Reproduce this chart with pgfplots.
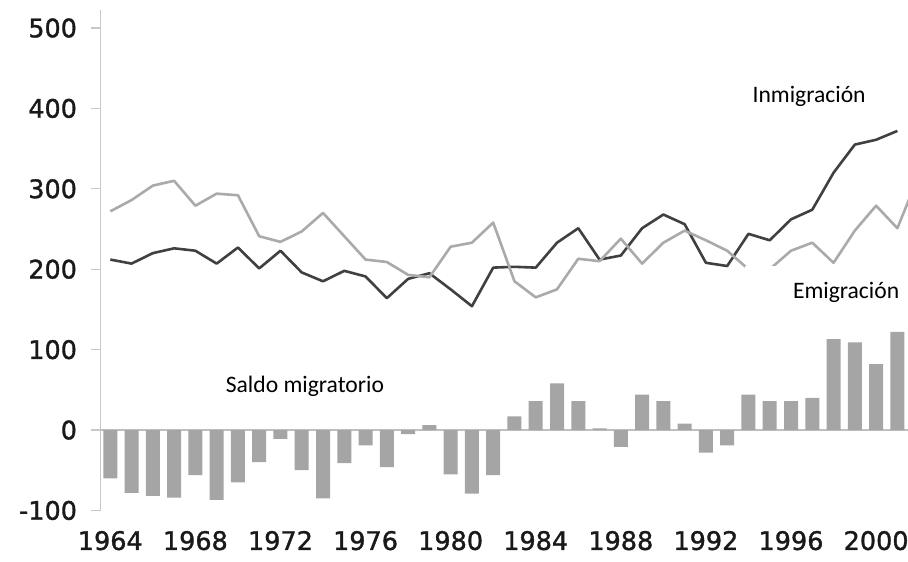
\documentclass[border=0pt]{standalone}
\usepackage{pgfplots}
\usepackage{pgfplotstable}
\pgfplotsset{compat=1.18}
\usepackage{fontspec}
\setmainfont{DejaVu Sans}
\newfontfamily\tickfont[FakeBold=1.3]{DejaVu Sans}
\newfontfamily\carlito{Carlito}
\definecolor{darkline}{HTML}{404040}
\definecolor{lightline}{HTML}{AAAAAA}
\definecolor{barfill}{HTML}{A5A5A5}
\definecolor{axisgray}{HTML}{C8C8C8}
\definecolor{zerogray}{HTML}{BFBFBF}

\pgfplotstableread{
year saldo inm emi
1964 -60 212 272
1965 -78 207 286
1966 -82 220 304
1967 -84 226 310
1968 -56 223 279
1969 -87 207 294
1970 -65 227 292
1971 -40 201 241
1972 -11 223 234
1973 -50 196 247
1974 -85 185 270
1975 -41 198 241
1976 -19 191 212
1977 -46 164 209
1978 -5 188 193
1979 6 195 190
1980 -55 175 228
1981 -79 154 233
1982 -56 202 258
1983 17 203 185
1984 36 202 165
1985 58 233 175
1986 36 251 213
1987 2 212 210
1988 -21 217 238
1989 44 251 207
1990 36 268 233
1991 8 256 248
1992 -28 208 236
1993 -19 204 223
1994 44 244 200
1995 36 236 200
1996 36 262 223
1997 40 274 233
1998 113 320 208
1999 109 355 248
2000 82 361 279
2001 122 372 251
2002 nan nan 316
}\datatable

\begin{document}
\begin{tikzpicture}
\begin{axis}[
  at={(0,0)}, anchor=south west,
  scale only axis, width=807.4pt, height=500.4pt,
  xmin=1963.54, xmax=2001.5, ymin=-100, ymax=522.4,
  axis y line*=left, axis x line*=bottom,
  axis line style={-},
  x axis line style={draw=none},
  y axis line style={draw=axisgray, line width=1.3pt},
  xtick={1964,1968,...,2000},
  xticklabels={1964,1968,1972,1976,1980,1984,1988,1992,1996,2000},
  xtick style={draw=none},
  ytick={-100,0,...,500},
  yticklabels={-100,0,100,200,300,400,500},
  ytick style={draw=axisgray, line width=1.3pt},
  tick align=outside, major tick length=10pt,
  ticklabel style={font=\tickfont\fontsize{25.5}{30}\selectfont, text=black!90},
  xticklabel style={yshift=-7pt},
  yticklabel style={xshift=-10pt},
  extra y ticks={0},
  extra y tick labels={},
  extra y tick style={grid=major, major grid style={draw=zerogray, line width=1.3pt}},
  clip=true,
]
\coordinate (SW) at (rel axis cs:0,0);
\coordinate (NE) at (rel axis cs:1,1);
\addplot[ybar, bar width=0.658, fill=barfill, draw=none] table[x=year,y=saldo]{\datatable};
\addplot[darkline, line width=2.6pt, line join=round, mark=none] table[x=year,y=inm]{\datatable};
\addplot[lightline, line width=2.6pt, line join=round, mark=none] table[x=year,y=emi]{\datatable};
\fill[white] (axis cs:1993.84,204) rectangle (axis cs:2001.6,140);
\node[font=\carlito\fontsize{23.6}{28}\selectfont] at (axis cs:1973.15,54.7) {Saldo migratorio};
\node[font=\carlito\fontsize{23.6}{28}\selectfont] at (axis cs:1996.85,415.4) {Inmigración};
\node[font=\carlito\fontsize{23.6}{28}\selectfont] at (axis cs:1998.59,171.6) {Emigración};
\end{axis}
\pgfresetboundingbox
\path[use as bounding box] ([xshift=-100.5pt,yshift=-50.6pt]SW) rectangle ([yshift=10pt]NE);
\end{tikzpicture}
\end{document}
